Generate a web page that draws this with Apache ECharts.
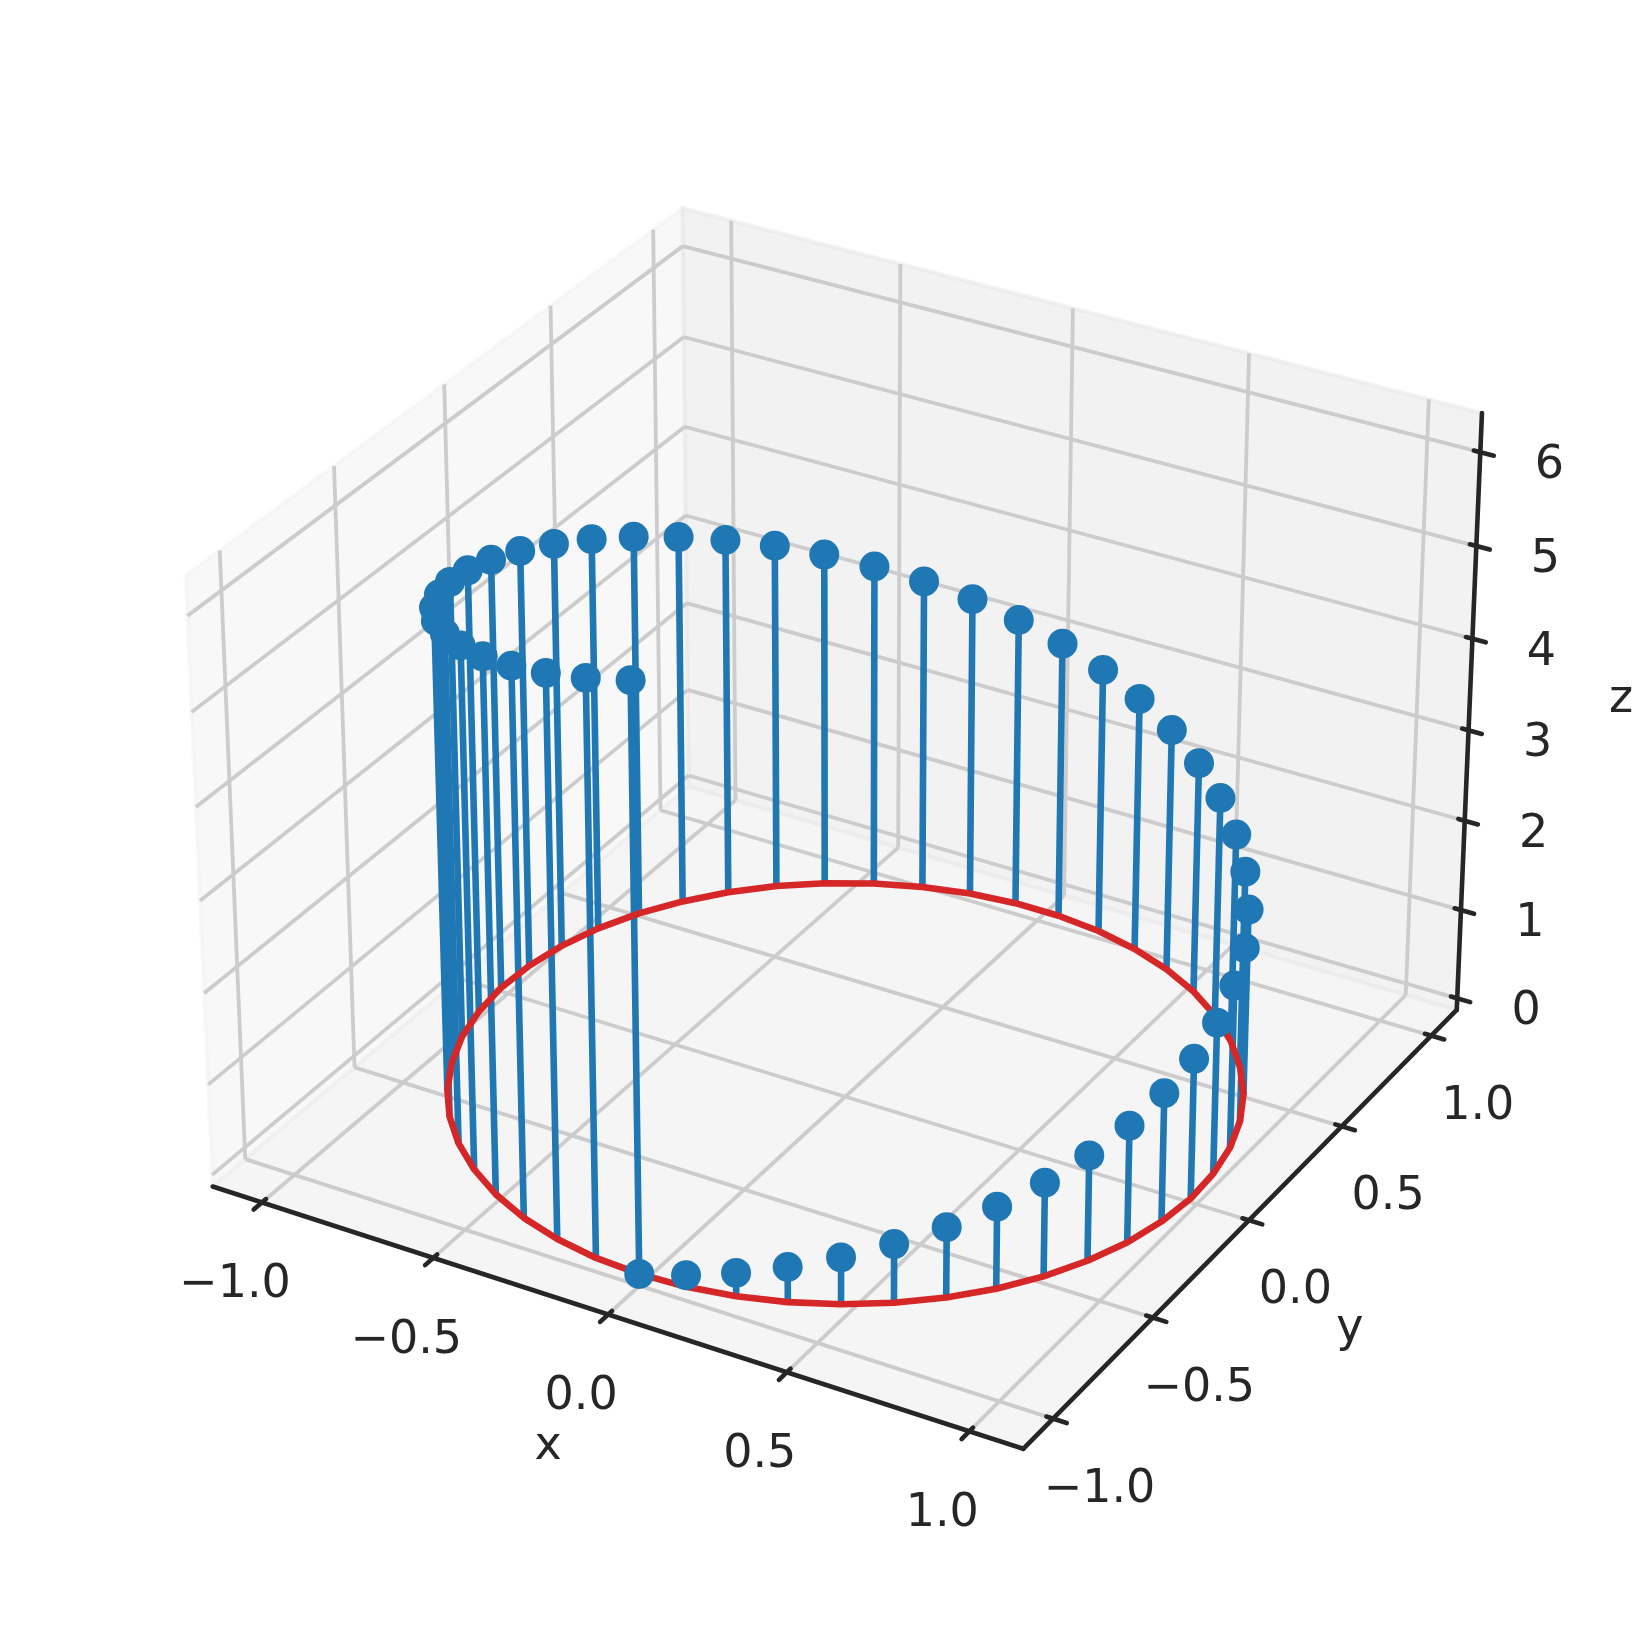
<!DOCTYPE html>
<html>
<head>
<meta charset="utf-8">
<title>stem3d</title>
<style>html,body{margin:0;padding:0;background:#fff}#main{width:1645px;height:1645px}</style>
<script src="https://cdn.jsdelivr.net/npm/echarts@6/dist/echarts.min.js"></script>
</head>
<body>
<div id="main"></div>
<script>
// values
var pointX = [0, 0.128, 0.254, 0.375, 0.491, 0.598, 0.696, 0.782, 0.855, 0.914, 0.959, 0.987, 1.0, 0.995, 0.975, 0.939, 0.887, 0.820, 0.741, 0.648, 0.546, 0.434, 0.315, 0.191, 0.064,
    -0.064, -0.191, -0.315, -0.434, -0.546, -0.648, -0.741, -0.820, -0.887, -0.939, -0.975, -0.995, -1.0, -0.987, -0.959, -0.914, -0.855, -0.782, -0.696, -0.598, -0.491, -0.375, -0.254, -0.128, 0];
var pointY = [-1.0, -0.992, -0.967, -0.927, -0.871, -0.801, -0.718, -0.624, -0.519, -0.405, -0.285, -0.160, -0.032, 0.096, 0.223, 0.345, 0.463, 0.572, 0.672, 0.762, 0.838, 0.901, 0.949, 0.982, 0.998,
    0.998, 0.982, 0.949, 0.901, 0.838, 0.762, 0.672, 0.572, 0.463, 0.345, 0.223, 0.096, -0.032, -0.160, -0.285, -0.405, -0.519, -0.624, -0.718, -0.801, -0.871, -0.927, -0.967, -0.992, -1.0];
var pointZ = [0, 0.128, 0.256, 0.385, 0.513, 0.641, 0.769, 0.898, 1.026, 1.154, 1.282, 1.411, 1.539, 1.667, 1.795, 1.923, 2.052, 2.180, 2.308, 2.436, 2.565, 2.693, 2.821, 2.949, 3.077,
    3.206, 3.334, 3.462, 3.590, 3.719, 3.847, 3.975, 4.103, 4.231, 4.360, 4.488, 4.616, 4.744, 4.872, 5.001, 5.129, 5.257, 5.385, 5.513, 5.642, 5.770, 5.898, 6.026, 6.155, 6.283];
var xTicks = [-1, -0.5, 0, 0.5, 1];
var yTicks = [-1, -0.5, 0, 0.5, 1];
var zTicks = [0, 1, 2, 3, 4, 5, 6];

// axis limits, pane overhang is 1/48 of the range
var xLim = [-1.1, 1.1], yLim = [-1.1, 1.1], zLim = [0, 6.283];
var xPad = (xLim[1] - xLim[0]) / 48, yPad = (yLim[1] - yLim[0]) / 48, zPad = (zLim[1] - zLim[0]) / 48;
var x0 = xLim[0] - xPad, x1 = xLim[1] + xPad, y0 = yLim[0] - yPad, y1 = yLim[1] + yPad, z0 = zLim[0] - zPad, z1 = zLim[1] + zPad;

// camera elev 30 azim -60, box 4:4:3, distance fitted to the picture
var boxA = 1.19048, boxC = 0.89286, camDist = 11.3;
var camU = [0.86603, 0.5, 0], camV = [-0.25, 0.43301, 0.86603], camN = [0.43301, -0.75, 0.5];
var scale = 8467, centerX = 845.3, centerY = 801;

function project(x, y, z) {
    var bx = (x - xLim[0]) / (xLim[1] - xLim[0]) * boxA - boxA / 2;
    var by = (y - yLim[0]) / (yLim[1] - yLim[0]) * boxA - boxA / 2;
    var bz = (z - zLim[0]) / (zLim[1] - zLim[0]) * boxC - boxC / 2;
    var u = camU[0] * bx + camU[1] * by + camU[2] * bz;
    var v = camV[0] * bx + camV[1] * by + camV[2] * bz;
    var d = camDist - (camN[0] * bx + camN[1] * by + camN[2] * bz);
    return [centerX + scale * u / d, centerY - scale * v / d];
}
function seg(a, b) {
    return project(a[0], a[1], a[2]).concat(project(b[0], b[1], b[2]));
}

// panes
var paneColors = ['rgba(242,242,242,0.5)', 'rgba(230,230,230,0.5)', 'rgba(236,236,236,0.5)'];
var panes = [
    [[x0, y0, z0], [x0, y1, z0], [x0, y1, z1], [x0, y0, z1]],
    [[x0, y1, z0], [x1, y1, z0], [x1, y1, z1], [x0, y1, z1]],
    [[x0, y0, z0], [x1, y0, z0], [x1, y1, z0], [x0, y1, z0]]
].map(function (p) {
    return p.reduce(function (r, c) { return r.concat(project(c[0], c[1], c[2])); }, []);
});

// grid lines
var gridSegs = [];
xTicks.forEach(function (t) {
    gridSegs.push(seg([t, y0, z0], [t, y1, z0]), seg([t, y1, z0], [t, y1, z1]));
});
yTicks.forEach(function (t) {
    gridSegs.push(seg([x1, t, z0], [x0, t, z0]), seg([x0, t, z0], [x0, t, z1]));
});
zTicks.forEach(function (t) {
    gridSegs.push(seg([x0, y0, t], [x0, y1, t]), seg([x0, y1, t], [x1, y1, t]));
});

// spines and tick marks
var spineSegs = [seg([x0, y0, z0], [x1, y0, z0]), seg([x1, y0, z0], [x1, y1, z0]), seg([x1, y1, z0], [x1, y1, z1])];
var tickIn = 0.018, tickOut = 0.037;
var tickSegs = [];
xTicks.forEach(function (t) { tickSegs.push(seg([t, y0 + tickIn, z0], [t, y0 - tickOut, z0])); });
yTicks.forEach(function (t) { tickSegs.push(seg([x1 - tickIn, t, z0], [x1 + tickOut, t, z0])); });
zTicks.forEach(function (t) { tickSegs.push(seg([x1 - tickIn, y1, t], [x1 + tickOut, y1, t])); });

// tick labels and axis names
function fmt(t) {
    return (t < 0 ? '\u2212' : '') + Math.abs(t).toFixed(1);
}
var labels = [];
xTicks.forEach(function (t) {
    var p = project(t, y0, z0);
    labels.push({ text: fmt(t), pos: [p[0] - 27, p[1] + 83] });
});
yTicks.forEach(function (t) {
    var p = project(x1, t, z0);
    labels.push({ text: fmt(t), pos: [p[0] + 46.5, p[1] + 71] });
});
zTicks.forEach(function (t) {
    var p = project(x1, y1, t);
    labels.push({ text: String(t), pos: [p[0] + 69, p[1] + 14] });
});
var xName = project(0, y0, z0), yName = project(x1, 0, z0), zName = project(x1, y1, 3.14);
labels.push({ text: 'x', pos: [xName[0] - 60, xName[1] + 133] });
labels.push({ text: 'y', pos: [yName[0] + 101, yName[1] + 109] });
labels.push({ text: 'z', pos: [zName[0] + 152, zName[1] - 18] });

// stems, ring and markers
var stemSegs = pointX.map(function (x, i) {
    return seg([x, pointY[i], 0], [x, pointY[i], pointZ[i]]);
});
var ringData = pointX.map(function (x, i) { return project(x, pointY[i], 0); });
var dotData = pointX.map(function (x, i) { return project(x, pointY[i], pointZ[i]); });

function segSeries(rows, color, width, cap, z) {
    return {
        type: 'custom',
        coordinateSystem: 'cartesian2d',
        silent: true,
        clip: false,
        z: z,
        data: rows,
        encode: { x: [0, 2], y: [1, 3] },
        renderItem: function (params, api) {
            var a = api.coord([api.value(0), api.value(1)]);
            var b = api.coord([api.value(2), api.value(3)]);
            return {
                type: 'line',
                shape: { x1: a[0], y1: a[1], x2: b[0], y2: b[1] },
                style: { stroke: color, lineWidth: width, lineCap: cap }
            };
        }
    };
}

var myChart = echarts.init(document.getElementById('main'), null, { renderer: 'canvas' });
var option = {
    animation: false,
    backgroundColor: '#fff',
    grid: { left: 0, right: 0, top: 0, bottom: 0 },
    xAxis: { type: 'value', min: 0, max: 1645, show: false },
    yAxis: { type: 'value', min: 0, max: 1645, inverse: true, show: false },
    series: [
        {
            type: 'custom',
            coordinateSystem: 'cartesian2d',
            silent: true,
            clip: false,
            z: 1,
            data: panes,
            encode: { x: [0, 2, 4, 6], y: [1, 3, 5, 7] },
            renderItem: function (params, api) {
                var pts = [];
                for (var i = 0; i < 4; i++) {
                    pts.push(api.coord([api.value(i * 2), api.value(i * 2 + 1)]));
                }
                return {
                    type: 'polygon',
                    shape: { points: pts },
                    style: { fill: paneColors[params.dataIndex], stroke: paneColors[params.dataIndex], lineWidth: 4 }
                };
            }
        },
        segSeries(gridSegs, '#cccccc', 3.8, 'butt', 2),
        segSeries(spineSegs, '#262626', 4.6, 'round', 3),
        segSeries(tickSegs, '#262626', 4.6, 'round', 4),
        segSeries(stemSegs, '#1f77b4', 6.6, 'butt', 5),
        {
            type: 'line',
            data: ringData,
            z: 6,
            silent: true,
            showSymbol: false,
            symbol: 'none',
            clip: false,
            lineStyle: { color: '#d62728', width: 6.6, join: 'round' }
        },
        {
            type: 'scatter',
            data: dotData,
            z: 7,
            silent: true,
            clip: false,
            symbol: 'circle',
            symbolSize: 30,
            itemStyle: { color: '#1f77b4', opacity: 1 }
        },
        {
            type: 'custom',
            coordinateSystem: 'cartesian2d',
            silent: true,
            clip: false,
            z: 8,
            data: labels.map(function (l) { return l.pos; }),
            encode: { x: 0, y: 1 },
            renderItem: function (params, api) {
                var p = api.coord([api.value(0), api.value(1)]);
                return {
                    type: 'text',
                    x: p[0],
                    y: p[1],
                    style: {
                        text: labels[params.dataIndex].text,
                        fontFamily: 'DejaVu Sans',
                        fontSize: 46,
                        fill: '#262626',
                        align: 'center',
                        verticalAlign: 'middle'
                    }
                };
            }
        }
    ]
};
myChart.setOption(option);
</script>
</body>
</html>
